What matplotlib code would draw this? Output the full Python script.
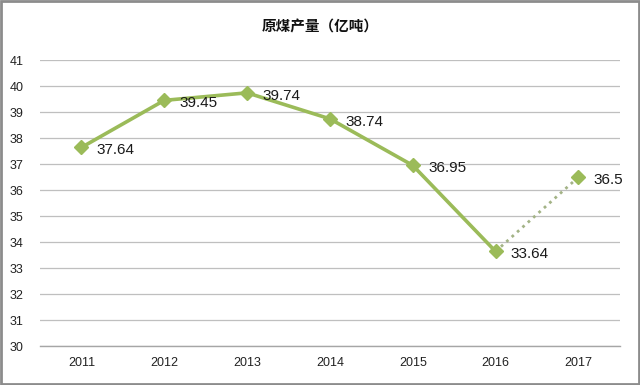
import matplotlib.pyplot as plt
from matplotlib.patches import Rectangle

plt.rcParams["font.family"] = ["Noto Sans CJK SC", "DejaVu Sans"]

years = ["2011", "2012", "2013", "2014", "2015", "2016", "2017"]
actual = [37.64, 39.45, 39.74, 38.74, 36.95, 33.64]
forecast = [33.64, 36.5]
labels = ["37.64", "39.45", "39.74", "38.74", "36.95", "33.64", "36.5"]

GREEN = "#9BBB59"
DOT = "#A3B386"

fig = plt.figure(figsize=(6.4, 3.85), dpi=100)
ax = fig.add_axes([0.0625, 0.101, 0.906, 0.743])

xs = list(range(len(years)))
ax.plot(xs[:6], actual, color=GREEN, linewidth=2.6, marker="D",
        markersize=7.5, zorder=3)
ax.plot(xs[5:], forecast, color=DOT, linewidth=2.0, linestyle=(0, (1, 1.6)),
        dash_capstyle="butt", zorder=2)
ax.plot(xs[6:], forecast[1:], color=GREEN, linestyle="none", marker="D",
        markersize=7.5, zorder=3)

values = actual + forecast[1:]
for x, v, lab in zip(xs, values, labels):
    ax.annotate(lab, (x, v), xytext=(11, -2), textcoords="offset points",
                ha="left", va="center", fontsize=11, color="#1a1a1a",
                family=["Liberation Sans", "DejaVu Sans"])

ax.set_xlim(-0.5, 6.5)
ax.set_ylim(30, 41)
ax.set_yticks(range(30, 42))
ax.set_xticks(xs)
ax.set_xticklabels(years)
ax.tick_params(length=0, labelsize=9, colors="#222222", pad=8)
ax.tick_params(axis="y", pad=12)
for lab in ax.get_xticklabels() + ax.get_yticklabels():
    lab.set_family(["Liberation Sans", "DejaVu Sans"])

ax.grid(axis="y", color="#BFBFBF", linewidth=0.9)
ax.set_axisbelow(True)
for side in ("top", "right", "left"):
    ax.spines[side].set_visible(False)
ax.spines["bottom"].set_color("#A6A6A6")
ax.spines["bottom"].set_linewidth(1.0)

fig.text(0.5, 0.93, "原煤产量（亿吨）", ha="center", va="center",
         fontsize=10.5, fontweight="bold", color="#111111")

fig.patches.append(Rectangle((0.002, 0.003), 0.996, 0.994,
                             transform=fig.transFigure, fill=False,
                             edgecolor="#8C8C8C", linewidth=2.0))

fig.savefig("out.png", dpi=100)
